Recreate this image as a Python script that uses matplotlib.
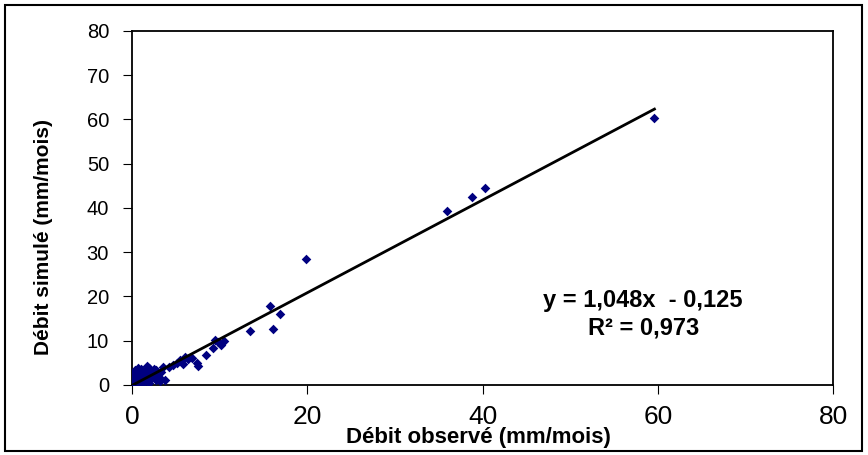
import numpy as np
import matplotlib
matplotlib.use('Agg')
from matplotlib import pyplot as plt
from matplotlib.patches import Rectangle

# débits mensuels (mm/mois)
debit_observe = [0.1, 0.2, 0.3, 0.4, 0.5, 0.6, 0.8, 1.0, 1.2, 0.3, 0.5, 0.7,
                 0.9, 1.1, 1.4, 1.6, 1.8, 2.0, 2.2, 2.5, 2.8, 3.0, 3.2, 0.2,
                 0.6, 1.0, 1.5, 2.0, 2.4, 2.7, 3.1, 3.5, 0.4, 1.3, 1.7, 2.1,
                 2.6, 3.3, 3.8, 4.2, 4.7, 5.1, 5.5, 5.8, 6.0, 6.4, 6.8, 7.4,
                 7.5, 8.5, 9.3, 9.5, 9.8, 10.2, 10.5, 13.5, 15.7, 16.1, 16.9,
                 19.9, 35.9, 38.8, 40.3, 59.6]
debit_simule = [2.5, 0.5, 1.5, 3.0, 0.8, 2.2, 1.2, 3.5, 0.6, 0.2, 2.8, 3.8,
                1.8, 0.9, 2.4, 3.2, 1.0, 3.9, 2.0, 3.6, 1.2, 2.6, 0.8, 1.0,
                0.3, 2.0, 1.4, 0.5, 2.9, 3.4, 1.7, 4.0, 3.3, 0.4, 4.2, 2.7,
                1.6, 3.0, 1.2, 4.0, 4.5, 5.0, 5.6, 4.8, 6.3, 5.8, 6.1, 5.0,
                4.3, 6.8, 8.4, 10.2, 9.6, 9.0, 9.9, 12.3, 17.9, 12.6, 16.0,
                28.4, 39.2, 42.4, 44.5, 60.4]

# droite de régression affichée
pente = 1.048
ordonnee = -0.125
r2 = 0.973

x_ticks = [0, 20, 40, 60, 80]
y_ticks = [0, 10, 20, 30, 40, 50, 60, 70, 80]

plt.rcParams['font.family'] = ['Liberation Sans', 'DejaVu Sans']

fig = plt.figure(figsize=(8.68, 4.55), dpi=100)
ax = fig.add_axes([0.152, 0.154, 0.808, 0.778])

ax.scatter(debit_observe, debit_simule, marker='D', s=24, color='#000080',
           linewidths=0, zorder=3)

xl = np.array([min(debit_observe), max(debit_observe)])
ax.plot(xl, pente * xl + ordonnee, color='black', lw=2, zorder=4)

ax.set_xlim(0, 80)
ax.set_ylim(0, 80)
ax.set_xticks(x_ticks)
ax.set_yticks(y_ticks)
ax.tick_params(axis='x', labelsize=19, direction='out', length=6.5, pad=8)
ax.tick_params(axis='y', labelsize=14.5, direction='out', length=6.5, pad=10)
for s in ax.spines.values():
    s.set_linewidth(1.3)

# équation de la tendance
ax.text(0.728, 0.238, 'y = 1,048x  - 0,125', transform=ax.transAxes,
        ha='center', va='center', fontsize=17, fontweight='bold')
ax.text(0.730, 0.160, 'R² = 0,973', transform=ax.transAxes,
        ha='center', va='center', fontsize=17, fontweight='bold')

fig.text(0.551, 0.038, 'Débit observé (mm/mois)', ha='center', va='center',
         fontsize=16, fontweight='bold')
fig.text(0.050, 0.479, 'Débit simulé (mm/mois)', ha='center', va='center',
         rotation=90, fontsize=15, fontweight='bold')

fig.patches.append(Rectangle((0.006, 0.009), 0.987, 0.98, transform=fig.transFigure,
                             fill=False, edgecolor='black', lw=1.5))

fig.savefig('out.png', dpi=100)
